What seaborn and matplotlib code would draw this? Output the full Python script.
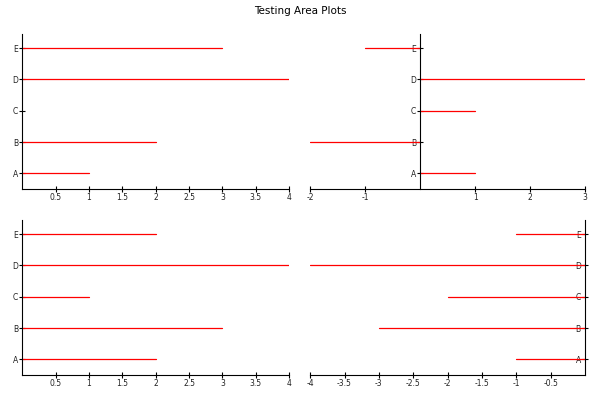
import pandas as pd
import seaborn as sns
import matplotlib.pyplot as plt
from matplotlib.ticker import FormatStrFormatter

# dados de cada painel
categorias = ['A', 'B', 'C', 'D', 'E']
valores_sup_esq = [1, 2, 0, 4, 3]
valores_sup_dir = [1, -2, 1, 3, -1]
valores_inf_esq = [2, 3, 1, 4, 2]
valores_inf_dir = [-1, -3, -2, -4, -1]

ticks_sup_esq = [0.5, 1, 1.5, 2, 2.5, 3, 3.5, 4]
ticks_sup_dir = [-2, -1, 1, 2, 3]
ticks_inf_esq = [0.5, 1, 1.5, 2, 2.5, 3, 3.5, 4]
ticks_inf_dir = [-4, -3.5, -3, -2.5, -2, -1.5, -1, -0.5]

sns.set_style('white')

fig = plt.figure(figsize=(6, 4), dpi=100)
posicoes = [
    [0.037, 0.5275, 0.445, 0.3875],
    [0.517, 0.5275, 0.458, 0.3875],
    [0.037, 0.0625, 0.445, 0.3875],
    [0.517, 0.0625, 0.458, 0.3875],
]
paineis = [
    (valores_sup_esq, ticks_sup_esq, (0, 4)),
    (valores_sup_dir, ticks_sup_dir, (-2, 3)),
    (valores_inf_esq, ticks_inf_esq, (0, 4)),
    (valores_inf_dir, ticks_inf_dir, (-4, 0)),
]


def linhas_df(valores):
    # cada categoria vira um segmento de 0 ate o valor
    linhas = []
    for i, (cat, v) in enumerate(zip(categorias, valores)):
        linhas.append({'cat': cat, 'x': 0, 'y': i})
        linhas.append({'cat': cat, 'x': v, 'y': i})
    return pd.DataFrame(linhas)


for pos, (valores, ticks, lim) in zip(posicoes, paineis):
    ax = fig.add_axes(pos)
    df = linhas_df(valores)
    sns.lineplot(data=df, x='x', y='y', units='cat', estimator=None,
                 sort=False, color='red', linewidth=0.9, ax=ax)
    ax.set_xlim(*lim)
    ax.set_ylim(-0.5, 4.45)
    ax.set_xticks(ticks)
    ax.xaxis.set_major_formatter(FormatStrFormatter('%g'))
    ax.set_yticks(range(len(categorias)))
    ax.set_yticklabels(categorias)
    ax.set_xlabel('')
    ax.set_ylabel('')
    ax.spines['left'].set_position(('data', 0))
    ax.spines['top'].set_visible(False)
    ax.spines['right'].set_visible(False)
    for s in ['left', 'bottom']:
        ax.spines[s].set_color('black')
        ax.spines[s].set_linewidth(0.8)
    ax.tick_params(left=True, bottom=True, direction='inout', length=4,
                   width=0.8, labelsize=5.5, colors='black',
                   labelcolor='#222222', pad=1)

fig.suptitle('Testing Area Plots', fontsize=7.5, y=0.985, color='black')
plt.savefig('out.png', dpi=100)
